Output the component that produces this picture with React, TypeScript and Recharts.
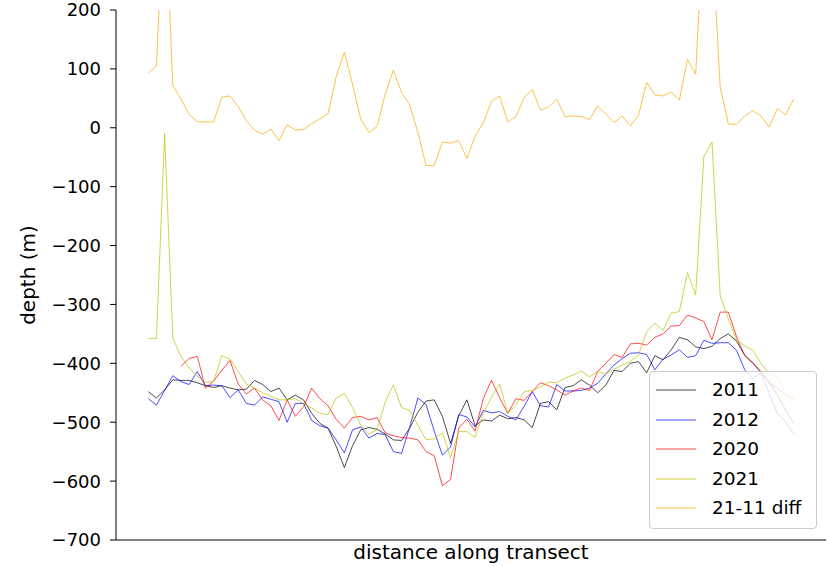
import React from 'react';
import { LineChart, Line, XAxis, YAxis, Legend } from 'recharts';

const y2011 = [
  -448, -459, -445, -428, -429, -429, -433, -438, -441, -438,
  -442, -445, -444, -429, -436, -448, -442, -462, -454, -462,
  -485, -502, -510, -541, -577, -540, -513, -509, -512, -520,
  -530, -531, -510, -483, -464, -462, -490, -536, -489, -462,
  -506, -496, -498, -488, -494, -492, -496, -509, -468, -465,
  -479, -441, -438, -428, -437, -450, -437, -412, -414, -400,
  -397, -416, -387, -394, -377, -356, -360, -372, -375, -371,
  -358, -350, -362, -386, -400, -414, -432, -454, -479, -502,
];
const y2012 = [
  -460, -471, -446, -421, -431, -436, -414, -438, -437, -438,
  -458, -445, -468, -471, -457, -461, -465, -500, -468, -468,
  -497, -506, -510, -530, -552, -513, -508, -527, -519, -521,
  -550, -553, -508, -459, -470, -515, -556, -542, -487, -491,
  -508, -480, -484, -482, -490, -496, -473, -448, -472, -474,
  -436, -447, -447, -446, -442, -434, -418, -403, -392, -383,
  -382, -385, -411, -393, -386, -377, -390, -387, -361, -366,
  -365, -365, -378, -411, -425, -417, -451, -485, -499, -519,
];
const y2020 = [
  null, null, null, null, -405, -392, -388, -442, -430, -412,
  -395, -435, -452, -442, -462, -472, -497, -462, -490, -474,
  -442, -460, -472, -495, -510, -492, -490, -496, -492, -518,
  -523, -526, -527, -530, -550, -557, -608, -597, -510, -495,
  -515, -460, -429, -458, -485, -460, -463, -448, -433, -438,
  -445, -454, -447, -442, -446, -414, -400, -385, -390, -367,
  -366, -369, -356, -350, -337, -336, -318, -323, -329, -360,
  -313, -313, -355, -387, -399, -417, -434, -442, -454, -462,
];
const y2021 = [
  -358, -358, -10, -357, -388, -408, -422, -432, -431, -387,
  -393, -414, -435, -442, -450, -456, -462, -462, -460, -468,
  -476, -485, -487, -459, -451, -475, -505, -520, -513, -466,
  -437, -475, -480, -505, -530, -528, -518, -560, -516, -516,
  -526, -485, -458, -435, -485, -471, -448, -446, -440, -432,
  -433, -425, -420, -413, -423, -414, -418, -410, -403, -397,
  -386, -346, -332, -344, -315, -312, -246, -284, -49, -24,
  -285, -325, -360, -370, -378, -400, -418, -423, -450, -457,
];
const diff2111 = [
  93, 105, 410, 72, 49, 23, 10, 10, 10, 52,
  54, 36, 12, -4, -11, -2, -22, 5, -4, -3,
  7, 15, 24, 87, 128, 74, 15, -8, 2, 57,
  98, 60, 39, -8, -64, -64, -24, -26, -22, -52,
  -14, 8, 45, 54, 10, 19, 51, 65, 30, 35,
  49, 19, 20, 19, 14, 37, 23, 9, 20, 3,
  21, 77, 56, 54, 61, 47, 116, 91, 368, 322,
  69, 6, 6, 20, 29, 20, 1, 33, 22, 49,
];

const seriesNames = ['2011', '2012', '2020', '2021', '21-11 diff'];
const seriesColors = ['#000000', '#0000ff', '#ff0000', '#bfbf00', '#ffa500'];
const yTicks = [200, 100, 0, -100, -200, -300, -400, -500, -600, -700];
const yDomain = [-700, 200];
const xDomain = [-3.95, 82.95];

const data = y2011.map((_, i) => ({
  i,
  y2011: y2011[i],
  y2012: y2012[i],
  y2020: y2020[i],
  y2021: y2021[i],
  diff: diff2111[i],
}));
const keys = ['y2011', 'y2012', 'y2020', 'y2021', 'diff'];

const FONT = "'DejaVu Sans', sans-serif";

const LegendBox = (props: any) => {
  const payload = props.payload || [];
  return (
    <div
      style={{
        position: 'relative',
        width: 168,
        height: 158,
        boxSizing: 'border-box',
        border: '1px solid #cccccc',
        borderRadius: 4,
        background: 'rgba(255,255,255,0.8)',
      }}
    >
      {payload.map((p: any, k: number) => (
        <div
          key={k}
          style={{
            position: 'absolute',
            left: 0,
            top: 3 + k * 29.6,
            height: 30,
            display: 'flex',
            alignItems: 'center',
            whiteSpace: 'nowrap',
          }}
        >
          <svg width={50} height={30} style={{ display: 'block' }}>
            <line x1={6} x2={46} y1={15} y2={15} stroke={p.color} strokeOpacity={0.7} strokeWidth={1} />
          </svg>
          <span style={{ marginLeft: 12, fontFamily: FONT, fontSize: 18.5, color: '#000', lineHeight: '30px' }}>
            {p.value}
          </span>
        </div>
      ))}
    </div>
  );
};

export default function App() {
  return (
    <div style={{ position: 'absolute', left: 0, top: 0, width: 827, height: 566, background: '#fff' }}>
      <LineChart width={827} height={566} data={data} margin={{ top: 10, right: 1, bottom: 0, left: 0 }}>
        <XAxis
          dataKey="i"
          type="number"
          domain={xDomain}
          allowDataOverflow
          tick={false}
          tickLine={false}
          height={26}
          axisLine={{ stroke: '#000', strokeWidth: 1 }}
          label={{
            value: 'distance along transect',
            position: 'insideBottom',
            offset: 7,
            style: { fontFamily: FONT, fontSize: 20, fill: '#000' },
          }}
        />
        <XAxis
          xAxisId="top"
          orientation="top"
          dataKey="i"
          type="number"
          domain={xDomain}
          allowDataOverflow
          tick={false}
          tickLine={false}
          height={0}
          axisLine={{ stroke: '#000', strokeWidth: 1 }}
        />
        <YAxis
          type="number"
          domain={yDomain}
          allowDataOverflow
          ticks={yTicks}
          interval={0}
          width={116}
          tickSize={6}
          tickMargin={9}
          tickFormatter={(v: number) => String(v).replace('-', '\u2212')}
          tick={{ fontFamily: FONT, fontSize: 18, fill: '#000' }}
          tickLine={{ stroke: '#000', strokeWidth: 1 }}
          axisLine={{ stroke: '#000', strokeWidth: 1 }}
          label={{
            value: 'depth (m)',
            angle: -90,
            position: 'insideLeft',
            offset: 28,
            style: { textAnchor: 'middle', fontFamily: FONT, fontSize: 20, fill: '#000' },
          }}
        />
        <YAxis
          yAxisId="right"
          orientation="right"
          type="number"
          domain={yDomain}
          allowDataOverflow
          tick={false}
          tickLine={false}
          width={0}
          axisLine={{ stroke: '#000', strokeWidth: 1 }}
        />
        {keys.map((k, n) => (
          <Line
            key={k}
            type="linear"
            dataKey={k}
            name={seriesNames[n]}
            stroke={seriesColors[n]}
            strokeOpacity={0.7}
            strokeWidth={1}
            dot={false}
            activeDot={false}
            isAnimationActive={false}
          />
        ))}
        <Legend
          layout="vertical"
          align="center"
          verticalAlign="middle"
          content={<LegendBox />}
          wrapperStyle={{ left: 649, top: 371, width: 168, height: 158 }}
        />
      </LineChart>
    </div>
  );
}
